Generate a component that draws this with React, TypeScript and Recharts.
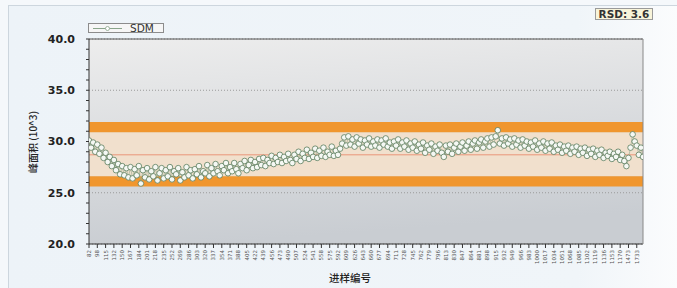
import React from 'react';
import { LineChart, Line, XAxis, YAxis, CartesianGrid, ReferenceArea, ReferenceLine } from 'recharts';

// sample numbers shown on the x axis (one label every 4 plotted points)
const tickLabels = [
  82, 98, 115, 132, 150, 167, 184, 201, 218, 235, 252, 269, 286, 303, 320, 337, 354,
  371, 388, 405, 422, 439, 456, 473, 490, 507, 524, 541, 558, 575, 592, 609, 626, 643,
  660, 677, 694, 711, 728, 745, 762, 779, 796, 813, 830, 847, 864, 881, 898, 915, 932,
  949, 966, 983, 1000, 1017, 1034, 1051, 1068, 1085, 1102, 1119, 1136, 1153, 1170, 1473, 1733,
];

// peak area (10^3)
const sdmValues = [
  30.1, 29.4, 29.9, 29.0, 29.7, 28.8, 29.4, 28.4, 28.9, 28.0,
  28.5, 27.6, 28.2, 27.2, 27.8, 26.8, 27.6, 26.7, 27.4, 26.5,
  27.5, 26.4, 27.3, 26.7, 27.6, 25.9, 27.2, 26.5, 27.4, 26.3,
  27.1, 26.6, 27.5, 26.2, 26.9, 27.4, 26.4, 27.2, 26.6, 27.5,
  26.3, 27.1, 26.8, 27.4, 26.2, 27.0, 26.5, 27.5, 26.7, 27.2,
  26.4, 27.3, 26.8, 27.6, 26.5, 27.1, 26.9, 27.7, 26.6, 27.4,
  26.9, 27.8, 27.1, 26.7, 27.6, 27.2, 27.9, 26.9, 27.5, 27.1,
  27.9, 27.3, 26.9, 27.8, 27.4, 28.1, 27.2, 27.7, 28.2, 27.4,
  28.0, 27.5, 28.3, 27.7, 28.4, 27.6, 28.2, 27.9, 28.6, 27.8,
  28.4, 28.0, 28.7, 27.9, 28.5, 28.1, 28.8, 28.2, 27.9, 28.7,
  28.3, 29.0, 28.1, 28.8, 28.4, 29.2, 28.3, 28.9, 28.5, 29.3,
  28.4, 29.1, 28.6, 29.4, 28.5, 29.0, 28.7, 29.5, 28.6, 29.1,
  28.7, 29.3, 29.8, 30.4, 29.6, 30.5, 29.7, 30.2, 29.5, 30.4,
  29.8, 30.2, 29.4, 30.1, 29.7, 30.3, 29.5, 30.0, 29.6, 30.2,
  29.4, 30.1, 29.7, 30.3, 29.5, 29.9, 29.3, 30.0, 29.6, 30.2,
  29.3, 29.9, 29.5, 30.1, 29.2, 29.8, 29.4, 30.0, 29.1, 29.7,
  29.3, 29.9, 28.9, 29.6, 29.2, 29.8, 28.8, 29.5, 29.1, 29.7,
  28.9, 28.5, 29.6, 29.0, 29.7, 28.8, 29.4, 29.8, 29.0, 29.5,
  29.9, 29.1, 29.6, 30.0, 29.2, 29.8, 30.1, 29.3, 29.9, 30.2,
  29.4, 30.0, 30.3, 29.5, 30.4, 29.7, 30.5, 31.1, 29.8, 30.3,
  29.6, 30.4, 29.8, 30.2, 29.5, 30.3, 29.7, 30.1, 29.4, 30.2,
  29.6, 30.0, 29.3, 29.9, 29.5, 30.1, 29.2, 29.8, 29.4, 30.0,
  29.1, 29.8, 29.3, 29.9, 29.0, 29.6, 29.2, 29.7, 28.9, 29.5,
  29.1, 29.6, 28.8, 29.4, 29.0, 29.5, 28.7, 29.3, 28.9, 29.4,
  28.6, 29.2, 28.8, 29.3, 28.5, 29.1, 28.7, 29.2, 28.4, 28.9,
  28.6, 29.0, 28.3, 28.8, 28.5, 29.0, 28.2, 28.7, 28.1, 27.6,
  28.4, 29.4, 30.7, 30.0, 29.6, 28.7, 29.4, 28.5,
];

const yTicks = [20, 21, 22, 23, 24, 25, 26, 27, 28, 29, 30, 31, 32, 33, 34, 35, 36, 37, 38, 39, 40];
const yGridTicks = [20, 25, 30, 35, 40];
const upperBand = [30.9, 31.9];
const innerBand = [26.6, 30.9];
const lowerBand = [25.6, 26.6];
const centerValue = 28.7;
const rsd = 3.6;

const data = sdmValues.map((v, i) => ({ i, sdm: v }));
const labelTicks = tickLabels.map((_, k) => k * 4);
const denseTicks = sdmValues.map((_, i) => i).filter((i) => i % 2 === 0);

const font = '"DejaVu Sans", sans-serif';
const cjk = '"Noto Sans CJK SC", sans-serif';

const XTick = ({ x, y, payload }: any) => (
  <text
    x={x}
    y={y}
    dy={2}
    transform={`rotate(-90 ${x} ${y})`}
    textAnchor="end"
    fontSize={5.5}
    fontFamily={font}
    fill="#555"
  >
    {tickLabels[payload.value / 4]}
  </text>
);

const App = () => {
  return (
    <div
      style={{
        position: 'absolute',
        left: 0,
        top: 0,
        width: 677,
        height: 288,
        background: '#f5f8fb',
        overflow: 'hidden',
      }}
    >
      <div
        style={{
          position: 'absolute',
          left: 8,
          top: 5,
          width: 669,
          height: 283,
          borderLeft: '1px solid #cdd6de',
          borderTop: '1px solid #cdd6de',
          background: 'linear-gradient(90deg, #edf3f8 0%, #f0f5f9 85%, #fbfcfd 100%)',
        }}
      />
      <div style={{ position: 'absolute', left: 0, top: 0 }}>
        <LineChart width={677} height={288} data={data} margin={{ top: 39, right: 30, left: 9, bottom: 14 }}>
          <defs>
            <linearGradient id="plotBg" x1="0" y1="0" x2="0.2" y2="1">
              <stop offset="0%" stopColor="#ededed" />
              <stop offset="100%" stopColor="#c9cdd2" />
            </linearGradient>
          </defs>
          <CartesianGrid
            vertical={false}
            horizontalValues={yGridTicks}
            stroke="#9a9a9a"
            strokeDasharray="1 2"
            fill="url(#plotBg)"
            fillOpacity={1}
          />
          <XAxis
            dataKey="i"
            type="number"
            domain={[0, sdmValues.length - 1]}
            ticks={labelTicks}
            interval={0}
            tick={<XTick />}
            tickSize={4}
            tickMargin={2}
            height={30}
            stroke="#333"
            allowDataOverflow
          />
          <XAxis
            xAxisId="bottomInner"
            dataKey="i"
            type="number"
            domain={[0, sdmValues.length - 1]}
            ticks={denseTicks}
            interval={0}
            tick={false}
            tickSize={3}
            mirror
            axisLine={false}
            stroke="#444"
          />
          <XAxis
            xAxisId="top"
            orientation="top"
            dataKey="i"
            type="number"
            domain={[0, sdmValues.length - 1]}
            ticks={denseTicks}
            interval={0}
            tick={false}
            tickSize={3}
            mirror
            stroke="#555"
          />
          <YAxis
            domain={[20, 40]}
            ticks={yTicks}
            interval={0}
            tickFormatter={(v: number) => (v % 5 === 0 ? v.toFixed(1) : '')}
            tickSize={3}
            tickMargin={11}
            width={80}
            stroke="#333"
            tick={{ fontSize: 11, fontWeight: 'bold', fill: '#222', fontFamily: font }}
            allowDataOverflow
          />
          <YAxis
            yAxisId="leftInner"
            domain={[20, 40]}
            ticks={yTicks}
            interval={0}
            tick={false}
            tickSize={3}
            mirror
            axisLine={false}
            stroke="#333"
          />
          <YAxis
            yAxisId="right"
            orientation="right"
            domain={[20, 40]}
            ticks={yTicks}
            interval={0}
            tick={false}
            tickSize={2}
            width={4}
            stroke="#888"
          />
          <ReferenceArea y1={innerBand[0]} y2={innerBand[1]} fill="#f1e0cd" fillOpacity={1} stroke="none" />
          <ReferenceArea y1={upperBand[0]} y2={upperBand[1]} fill="#f0962e" fillOpacity={1} stroke="none" />
          <ReferenceArea y1={lowerBand[0]} y2={lowerBand[1]} fill="#f0962e" fillOpacity={1} stroke="none" />
          <ReferenceLine y={centerValue} stroke="#e9957a" strokeWidth={1} />
          <Line
            type="linear"
            dataKey="sdm"
            stroke="#8fab90"
            strokeWidth={0.6}
            dot={{ r: 2.8, fill: '#f5f8f4', stroke: '#5a7c5c', strokeWidth: 0.8 }}
            isAnimationActive={false}
          />
        </LineChart>
      </div>

      {/* legend */}
      <div
        style={{
          position: 'absolute',
          left: 88,
          top: 23,
          width: 76,
          height: 10,
          border: '1px solid #8c8c8c',
          background: '#f6f6f6',
          boxSizing: 'border-box',
        }}
      >
        <svg width={40} height={9} style={{ position: 'absolute', left: 3, top: 0 }}>
          <line x1={1} y1={4.5} x2={30} y2={4.5} stroke="#8aa58b" strokeWidth={1} />
          <circle cx={15.5} cy={4.5} r={2} fill="#fff" stroke="#8aa58b" strokeWidth={0.8} />
        </svg>
        <span
          style={{
            position: 'absolute',
            left: 41,
            top: -3,
            fontFamily: font,
            fontSize: 10.5,
            color: '#333',
            lineHeight: '14px',
          }}
        >
          SDM
        </span>
      </div>

      {/* RSD box */}
      <div
        style={{
          position: 'absolute',
          left: 595,
          top: 8,
          width: 58,
          height: 12,
          border: '1px solid #9a9a9a',
          background: '#f8f4da',
          boxSizing: 'border-box',
          fontFamily: font,
          fontSize: 10.5,
          fontWeight: 'bold',
          color: '#333',
          lineHeight: '10px',
          textAlign: 'center',
          whiteSpace: 'nowrap',
        }}
      >
        RSD: {rsd}
      </div>

      {/* axis titles */}
      <div
        style={{
          position: 'absolute',
          left: 350,
          top: 277,
          transform: 'translate(-50%, -50%)',
          fontFamily: cjk,
          fontSize: 10.5,
          fontWeight: 500,
          color: '#222',
          whiteSpace: 'nowrap',
        }}
      >
        进样编号
      </div>
      <div
        style={{
          position: 'absolute',
          left: 32,
          top: 142,
          transform: 'translate(-50%, -50%) rotate(-90deg)',
          fontFamily: cjk,
          fontSize: 10,
          fontWeight: 500,
          color: '#222',
          whiteSpace: 'nowrap',
        }}
      >
        峰面积 (10^3)
      </div>
    </div>
  );
};

export default App;
